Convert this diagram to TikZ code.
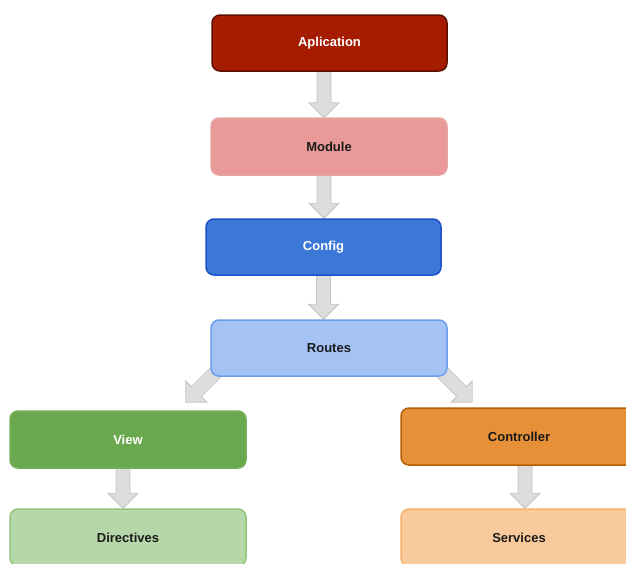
\documentclass[tikz,border=0pt]{standalone}
\usepackage{fontspec}
\setmainfont{Liberation Sans}
\usetikzlibrary{calc,backgrounds}
\definecolor{appfill}{HTML}{A61C00}
\definecolor{appdraw}{HTML}{5B0F00}
\definecolor{modfill}{HTML}{EA9999}
\definecolor{moddraw}{HTML}{E6A5A5}
\definecolor{cfgfill}{HTML}{3C78D8}
\definecolor{cfgdraw}{HTML}{1C50C8}
\definecolor{rtfill}{HTML}{A4C2F4}
\definecolor{rtdraw}{HTML}{6D9EEB}
\definecolor{vwfill}{HTML}{6AA84F}
\definecolor{vwdraw}{HTML}{74B05A}
\definecolor{ctfill}{HTML}{E69138}
\definecolor{ctdraw}{HTML}{B45F06}
\definecolor{dirfill}{HTML}{B6D7A8}
\definecolor{dirdraw}{HTML}{93C47D}
\definecolor{svfill}{HTML}{F9CB9C}
\definecolor{svdraw}{HTML}{F6B26B}
\definecolor{arrfill}{HTML}{DDDDDD}
\definecolor{arrdraw}{HTML}{C4C4C4}
\definecolor{darktext}{HTML}{1A1A1A}
\tikzset{
  box/.style={draw, line width=1.5pt, rounded corners=8pt, minimum width=235pt,
    minimum height=56pt, inner sep=0pt,
    font=\fontsize{13}{15}\selectfont\bfseries, text=darktext},
  lighttext/.style={text=white},
  blockarr/.style={fill=arrfill, draw=arrdraw, line width=0.8pt, line join=miter}
}
\newcommand\blockarrow[2]{%
  \path[blockarr] let \p1=#1, \p2=#2,
    \n1={atan2(\y2-\y1,\x2-\x1)}, \n2={veclen(\x2-\x1,\y2-\y1)} in
    {[shift={(\p1)}, rotate=\n1]
    (0pt,-7pt) -- ({\n2-15pt},-7pt) -- ({\n2-15pt},-15pt) -- ({\n2+0pt},0pt)
    -- ({\n2-15pt},15pt) -- ({\n2-15pt},7pt) -- (0pt,7pt) -- cycle};}
\begin{document}
\begin{tikzpicture}[x=1pt,y=-1pt]
\useasboundingbox (0,0) rectangle (626,563);
\node[box, fill=appfill, draw=appdraw, lighttext] (app) at (329.5,43) {Aplication};
\node[box, fill=modfill, draw=moddraw, minimum width=236pt, minimum height=57pt] (module) at (329,146.5) {Module};
\node[box, fill=cfgfill, draw=cfgdraw, lighttext] (config) at (323.5,247) {Config};
\node[box, fill=rtfill, draw=rtdraw, minimum width=236pt] (routes) at (329,348) {Routes};
\node[box, fill=vwfill, draw=vwdraw, lighttext, minimum width=236pt, minimum height=57pt] (view) at (128,439.5) {View};
\node[box, fill=ctfill, draw=ctdraw, minimum width=236pt, minimum height=57pt] (controller) at (519,436.5) {Controller};
\node[box, fill=dirfill, draw=dirdraw, minimum width=236pt, minimum height=57pt] (directives) at (128,537.5) {Directives};
\node[box, fill=svfill, draw=svdraw, minimum width=236pt, minimum height=57pt] (services) at (519,537.5) {Services};
\begin{scope}[on background layer]
\coordinate (a1s) at ($(app.south)+(-5.5,-2)$);
\coordinate (a1e) at ($(app.south -| a1s) !0! (module.north -| a1s)$);
\blockarrow{(a1s)}{($(module.north -| a1s)+(0,0.5)$)}
\coordinate (a2s) at ($(module.south)+(-5,-2)$);
\blockarrow{(a2s)}{($(config.north -| a2s)+(0,0)$)}
\coordinate (a3s) at ($(config.south)+(0,-2)$);
\blockarrow{(a3s)}{($(routes.north -| a3s)+(0,0)$)}
\coordinate (a4s) at ($(routes.south west)+(11,-10)$);
\coordinate (a4e) at ($(view.north east)+(-61,-8)$);
\blockarrow{(a4s)}{(a4e)}
\coordinate (a5s) at ($(routes.south east)+(-11,-10)$);
\coordinate (a5e) at ($(controller.north west)+(72,-5)$);
\blockarrow{(a5s)}{(a5e)}
\coordinate (a6s) at ($(view.south)+(-5,-2)$);
\blockarrow{(a6s)}{($(directives.north -| a6s)+(0,0)$)}
\coordinate (a7s) at ($(controller.south)+(6,-2)$);
\blockarrow{(a7s)}{($(services.north -| a7s)+(0,0)$)}
\end{scope}
\end{tikzpicture}
\end{document}
